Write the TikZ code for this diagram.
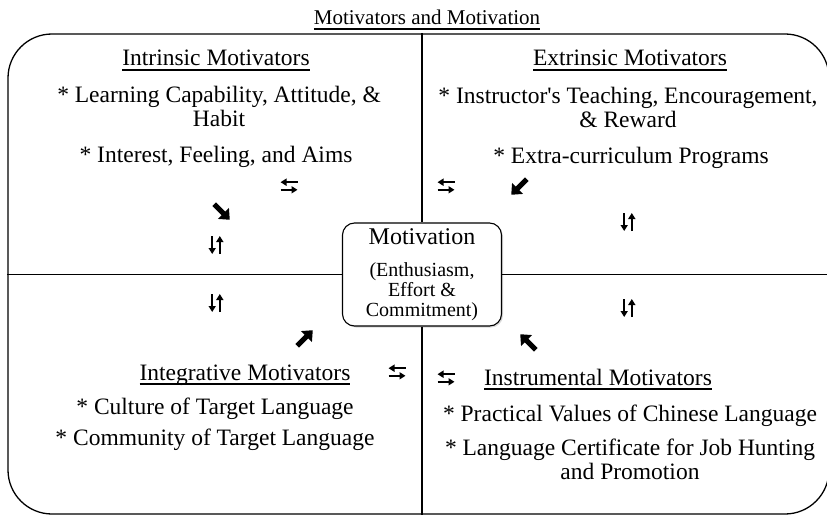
\documentclass[tikz,border=0pt]{standalone}
\usepackage{fontspec}
\setmainfont{Liberation Serif}
\usetikzlibrary{arrows.meta,shadows}

\newcommand{\subrayado}[1]{\setbox0\hbox{#1}\rlap{\vrule width \wd0 height -3.2pt depth 4.7pt}\box0}

\begin{document}
\begin{tikzpicture}[x=1pt,y=-1pt, %Motivadores
  % Estilos del marco, de los textos y de las flechas
  marco/.style={draw, line width=1.3pt, rounded corners=44pt, minimum width=821pt, minimum height=480pt, inner sep=0pt},
  texto/.style={anchor=base, align=center, inner sep=0pt, font=\fontsize{23.5}{24}\selectfont},
  centro/.style={draw, fill=white, line width=1.1pt, rounded corners=12pt, minimum width=159pt, minimum height=103pt, inner sep=0pt, align=center, font=\fontsize{20}{20}\selectfont, drop shadow={opacity=0.3, shadow xshift=1.5pt, shadow yshift=-1.5pt}},
  linea/.style={line width=1.3pt},
  flechita/.style={line width=1.8pt, -{Triangle[length=6pt,width=7pt]}},
  cambio/.pic={\draw[flechita] (8.5,-3.8) -- (-8.5,-3.8); \draw[flechita] (-8.5,3.8) -- (8.5,3.8);},
  subebaja/.pic={\draw[flechita] (-3.8,-9) -- (-3.8,9); \draw[flechita] (3.8,9) -- (3.8,-9);},
  gruesa/.pic={\draw[line width=5pt, -{Triangle[length=9pt,width=15pt]}] (-11,0) -- (11,0);}
  ]
  \useasboundingbox (0,0) rectangle (827,516);
  \node[marco] (marco) at (418.5,274) {};
  \node[centro] (motivacion) at (422,274.5) {{\fontsize{24}{24}\selectfont Motivation}\\[12pt](Enthusiasm,\\Effort \&\\Commitment)};
  \draw[linea] (motivacion.north |- marco.north) -- (motivacion.north);
  \draw[linea] (motivacion.south) -- (motivacion.south |- marco.south);
  \draw[linea] (marco.west |- motivacion.west) -- (motivacion.west);
  \draw[linea] (motivacion.east) -- (marco.east |- motivacion.east);

  % en los textos de dos renglones la base es la del ultimo
  \node[texto, font=\fontsize{21}{24}\selectfont] (titulo) at (427,25) {\subrayado{Motivators and Motivation}};
  \node[texto] (intrinsecos) at (216,66) {\subrayado{Intrinsic Motivators}};
  \node[texto] (intr1) at (219,127) {* Learning Capability, Attitude, \&\\Habit};
  \node[texto] (intr2) at (216,162) {* Interest, Feeling, and Aims};
  \node[texto] (extrinsecos) at (630,66) {\subrayado{Extrinsic Motivators}};
  \node[texto] (extr1) at (628,128) {* Instructor\textquotesingle s Teaching, Encouragement,\\\& Reward};
  \node[texto] (extr2) at (631,164) {* Extra-curriculum Programs};
  \node[texto] (integrativos) at (245,380) {\subrayado{Integrative Motivators}};
  \node[texto] (integ1) at (215,414) {* Culture of Target Language};
  \node[texto] (integ2) at (215,445) {* Community of Target Language};
  \node[texto] (instrumentales) at (598,385) {\subrayado{Instrumental Motivators}};
  \node[texto] (instr1) at (630,421) {* Practical Values of Chinese Language};
  \node[texto] (instr2) at (630,479) {* Language Certificate for Job Hunting\\and Promotion};

  \pic at (289,186) {cambio};
  \pic at (446,186) {cambio};
  \pic at (397,372) {cambio};
  \pic at (446,378) {cambio};
  \pic at (216,245) {subebaja};
  \pic at (628,222) {subebaja};
  \pic at (216,303) {subebaja};
  \pic at (628,308) {subebaja};
  \pic[rotate=-45] at (222,212) {gruesa};
  \pic[rotate=-135] at (519,187) {gruesa};
  \pic[rotate=45] at (305,338) {gruesa};
  \pic[rotate=135] at (528,342) {gruesa};

\end{tikzpicture}
\end{document}
